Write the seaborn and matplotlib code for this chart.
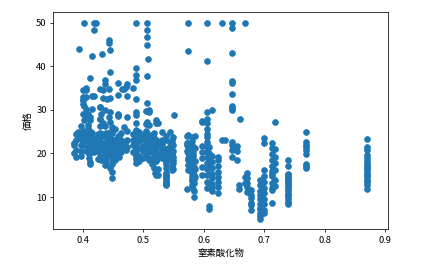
import matplotlib
matplotlib.use("Agg")
import matplotlib.pyplot as plt
import seaborn as sns
import pandas as pd

# 窒素酸化物 (NOX) levels and the 価格 (price) values observed at each level
nox_levels = [
    0.385, 0.389, 0.392, 0.394, 0.398, 0.400, 0.401, 0.403, 0.405, 0.409,
    0.410, 0.411, 0.412, 0.413, 0.416, 0.418, 0.422, 0.426, 0.428, 0.429,
    0.431, 0.432, 0.433, 0.437, 0.439, 0.441, 0.443, 0.444, 0.445, 0.446,
    0.448, 0.449, 0.453, 0.458, 0.459, 0.460, 0.464, 0.465, 0.469, 0.472,
    0.474, 0.484, 0.488, 0.489, 0.493, 0.499, 0.504, 0.506, 0.507, 0.508,
    0.510, 0.515, 0.518, 0.520, 0.522, 0.524, 0.532, 0.538, 0.544, 0.547,
    0.550, 0.551, 0.573, 0.575, 0.580, 0.581, 0.583, 0.584, 0.585, 0.597,
    0.605, 0.609, 0.614, 0.624, 0.631, 0.635, 0.647, 0.655, 0.659, 0.660,
    0.668, 0.669, 0.671, 0.679, 0.693, 0.700, 0.713, 0.718, 0.740, 0.770,
    0.871,
]
price_groups = [
    [20.1, 21.9, 22.4],
    [19.2, 20.8, 23.1, 24.5],
    [23.6, 25.0],
    [44.0],
    [19.5, 20.6, 22.0, 23.4, 24.8, 26.3],
    [22.9, 24.1, 25.2, 33.0, 32.2],
    [29.0, 31.4, 32.2, 34.5, 22.0, 24.0],
    [50.0, 31.0, 27.6, 24.3, 23.5],
    [35.1, 34.5, 33.0, 30.3, 28.4, 23.0, 20.5],
    [21.4, 23.2, 24.4, 26.6, 29.1, 25.8],
    [22.6, 24.7, 28.0, 19.9, 20.8],
    [19.0, 21.2, 22.8, 24.0],
    [37.3, 28.4, 27.6, 18.1, 17.7],
    [23.9, 25.0, 21.7, 20.4],
    [42.3, 22.9, 24.6, 33.1, 30.1],
    [50.0, 48.3, 33.1, 22.2, 20.3],
    [50.0, 23.5, 21.0],
    [24.5, 22.8, 20.6, 18.7],
    [22.0, 23.4, 24.7, 26.2, 30.7, 28.0, 19.4],
    [34.9, 30.7, 28.0],
    [21.1, 24.1, 29.0, 18.6],
    [42.9],
    [20.9, 22.2, 24.5, 32.8, 34.5, 26.9],
    [18.2, 20.0, 22.3, 26.4, 29.9, 36.8, 36.0, 17.3],
    [21.5, 23.8, 24.8, 19.0, 17.6],
    [32.5, 20.4, 22.6, 24.0],
    [34.9, 28.4, 21.0, 23.3],
    [46.1, 45.3],
    [29.5, 27.3, 25.0, 22.0, 19.8, 16.6],
    [43.8, 38.7, 32.8, 24.2, 20.9],
    [23.4, 22.0, 20.7, 19.2, 17.5, 26.0],
    [14.3, 15.8, 18.3, 21.3, 24.8],
    [20.2, 21.8, 23.1, 25.6, 18.4],
    [28.7, 33.4, 36.2, 22.9, 21.7, 19.6],
    [29.0, 28.8, 20.8, 23.9],
    [21.5, 22.5, 24.0, 19.2],
    [21.9, 23.0, 24.6, 20.4],
    [34.9, 22.5],
    [21.6, 34.7, 22.0, 26.0],
    [35.2, 22.8, 20.9],
    [36.0, 33.3, 28.4, 25.1, 23.0, 21.5],
    [24.4, 23.1, 22.0, 20.3, 35.0],
    [50.0, 39.7, 37.9, 36.8, 32.4, 29.5, 28.8, 26.9, 24.0, 22.4, 20.9, 19.4, 23.2, 25.3],
    [22.5, 23.7, 21.0, 18.8, 17.9, 20.0],
    [22.8, 21.2, 23.9, 19.5, 18.3, 25.0],
    [18.9, 21.7, 23.4, 20.5, 24.3],
    [21.4, 23.8, 22.4, 29.8, 26.7, 24.8, 25.1, 20.0],
    [50.0, 48.4, 46.8, 44.8, 37.7, 31.6, 27.3],
    [24.8, 23.0, 21.9, 20.1, 19.3, 22.6],
    [41.7],
    [29.9, 29.5, 26.5, 23.9, 22.2, 20.7, 18.6],
    [22.9, 21.1, 19.0, 17.5, 20.3, 24.2],
    [24.8, 23.6, 22.2, 20.8, 19.4, 18.0, 16.7],
    [21.8, 23.3, 20.5, 19.1, 15.6],
    [27.6, 26.9, 15.0, 18.2],
    [27.1, 21.7, 22.9, 18.9, 20.0, 16.5, 15.0],
    [24.9, 23.1, 22.2, 21.1, 20.0, 18.9],
    [24.0, 21.0, 20.2, 18.2, 19.9, 23.1, 17.5, 20.4, 18.2, 19.6, 15.2, 14.5, 15.6,
     13.9, 16.6, 14.8, 18.4, 21.0, 12.7, 14.5, 13.2, 13.1, 13.5, 18.9, 20.0],
    [21.7, 22.6, 25.0, 19.4, 20.8, 18.8],
    [23.1, 19.8, 22.3, 21.7, 17.2, 16.1, 19.5],
    [23.7, 22.0, 20.6, 18.6, 17.8, 16.4, 19.2],
    [28.8],
    [22.4, 20.6, 23.9, 22.0, 11.9],
    [50.0, 43.6, 24.2, 22.4, 21.4, 20.1, 19.0, 18.4, 17.3, 16.2],
    [23.7, 22.8, 21.0, 19.1, 18.1, 17.0, 14.9, 13.6, 12.8],
    [22.0, 20.5, 17.5, 14.2, 15.5],
    [20.1, 19.5, 15.7, 14.8, 13.0, 11.9],
    [16.8, 15.1, 14.1, 13.2, 11.4, 10.1],
    [24.1, 21.2, 18.3, 16.5, 14.6],
    [27.2, 27.5, 21.7, 20.3, 19.0, 16.9, 15.0],
    [50.0, 41.3, 26.9, 25.6, 23.8, 22.6, 21.4, 20.3, 19.2, 17.9, 16.4, 15.0, 13.5,
     12.1, 27.9, 29.5, 24.5],
    [21.5, 20.1, 18.3, 16.8, 15.4, 13.2, 12.5, 7.2, 8.0],
    [29.9, 19.5, 18.0, 16.7, 15.4, 14.3, 13.1, 12.2, 11.3],
    [19.2, 18.4, 17.1, 15.8, 14.6, 13.5, 12.3, 11.0],
    [50.0, 23.0],
    [23.0],
    [50.0, 48.8, 43.1, 36.6, 36.2, 33.7, 30.9, 30.4, 30.0, 22.6, 21.9, 20.9, 19.2],
    [21.7, 20.6, 18.6],
    [11.8, 12.7],
    [27.8],
    [14.6, 13.3],
    [50.0],
    [15.5, 14.4, 13.2, 12.2, 11.1],
    [11.6, 10.5, 9.7, 8.7, 7.0, 8.1],
    [13.9, 12.7, 11.5, 10.4, 9.5, 8.5, 7.2, 6.3, 5.0, 5.6, 7.5],
    [23.5, 22.4, 16.2, 14.9, 13.4, 12.0, 10.9, 9.6, 8.4, 7.0, 6.3],
    [22.4, 21.3, 19.9, 18.5, 17.1, 16.0, 14.8, 13.3, 12.1, 11.6, 8.6, 15.2],
    [27.3, 21.0, 19.1, 17.8, 16.3, 14.0, 12.5],
    [18.5, 17.1, 15.3, 15.0, 14.5, 14.1, 13.8, 13.4, 13.1, 12.6, 12.1, 11.7, 11.0,
     10.5, 10.2, 9.5, 8.8, 8.4],
    [25.0, 22.6, 22.0, 21.4, 20.8, 19.8, 17.7, 17.1, 16.6],
    [23.3, 21.5, 20.7, 19.6, 19.0, 18.3, 17.7, 17.2, 16.7, 16.1, 15.6, 15.1, 14.6,
     14.0, 13.4, 12.8, 11.8],
]

x_label = "窒素酸化物"
y_label = "価格"

nox_vals, price_vals = [], []
for lvl, grp in zip(nox_levels, price_groups):
    for p in grp:
        nox_vals.append(lvl)
        price_vals.append(p)
df = pd.DataFrame({"nox": nox_vals, "price": price_vals})

plt.rcParams["font.family"] = ["Noto Sans CJK JP", "DejaVu Sans"]
plt.rcParams["font.size"] = 10

DPI = 67.66
fig = plt.figure(figsize=(433 / DPI, 271.05 / DPI), dpi=DPI)
W, H = 433, 271
ax = fig.add_axes([53.3 / W, 1 - 229 / H, (387.7 - 53.3) / W, (229 - 12.3) / H])

sns.scatterplot(data=df, x="nox", y="price", ax=ax, s=36, color="#1f77b4",
                edgecolor="#1f77b4", linewidth=1.0, alpha=1.0, legend=False)

ax.set_xlim(0.3514, 0.9045)
ax.set_ylim(2.68, 52.4)
ax.set_xticks([0.4, 0.5, 0.6, 0.7, 0.8, 0.9])
ax.set_yticks([10, 20, 30, 40, 50])
ax.set_xlabel(x_label)
ax.set_ylabel(y_label)

fig.savefig("out.png", dpi=DPI)
